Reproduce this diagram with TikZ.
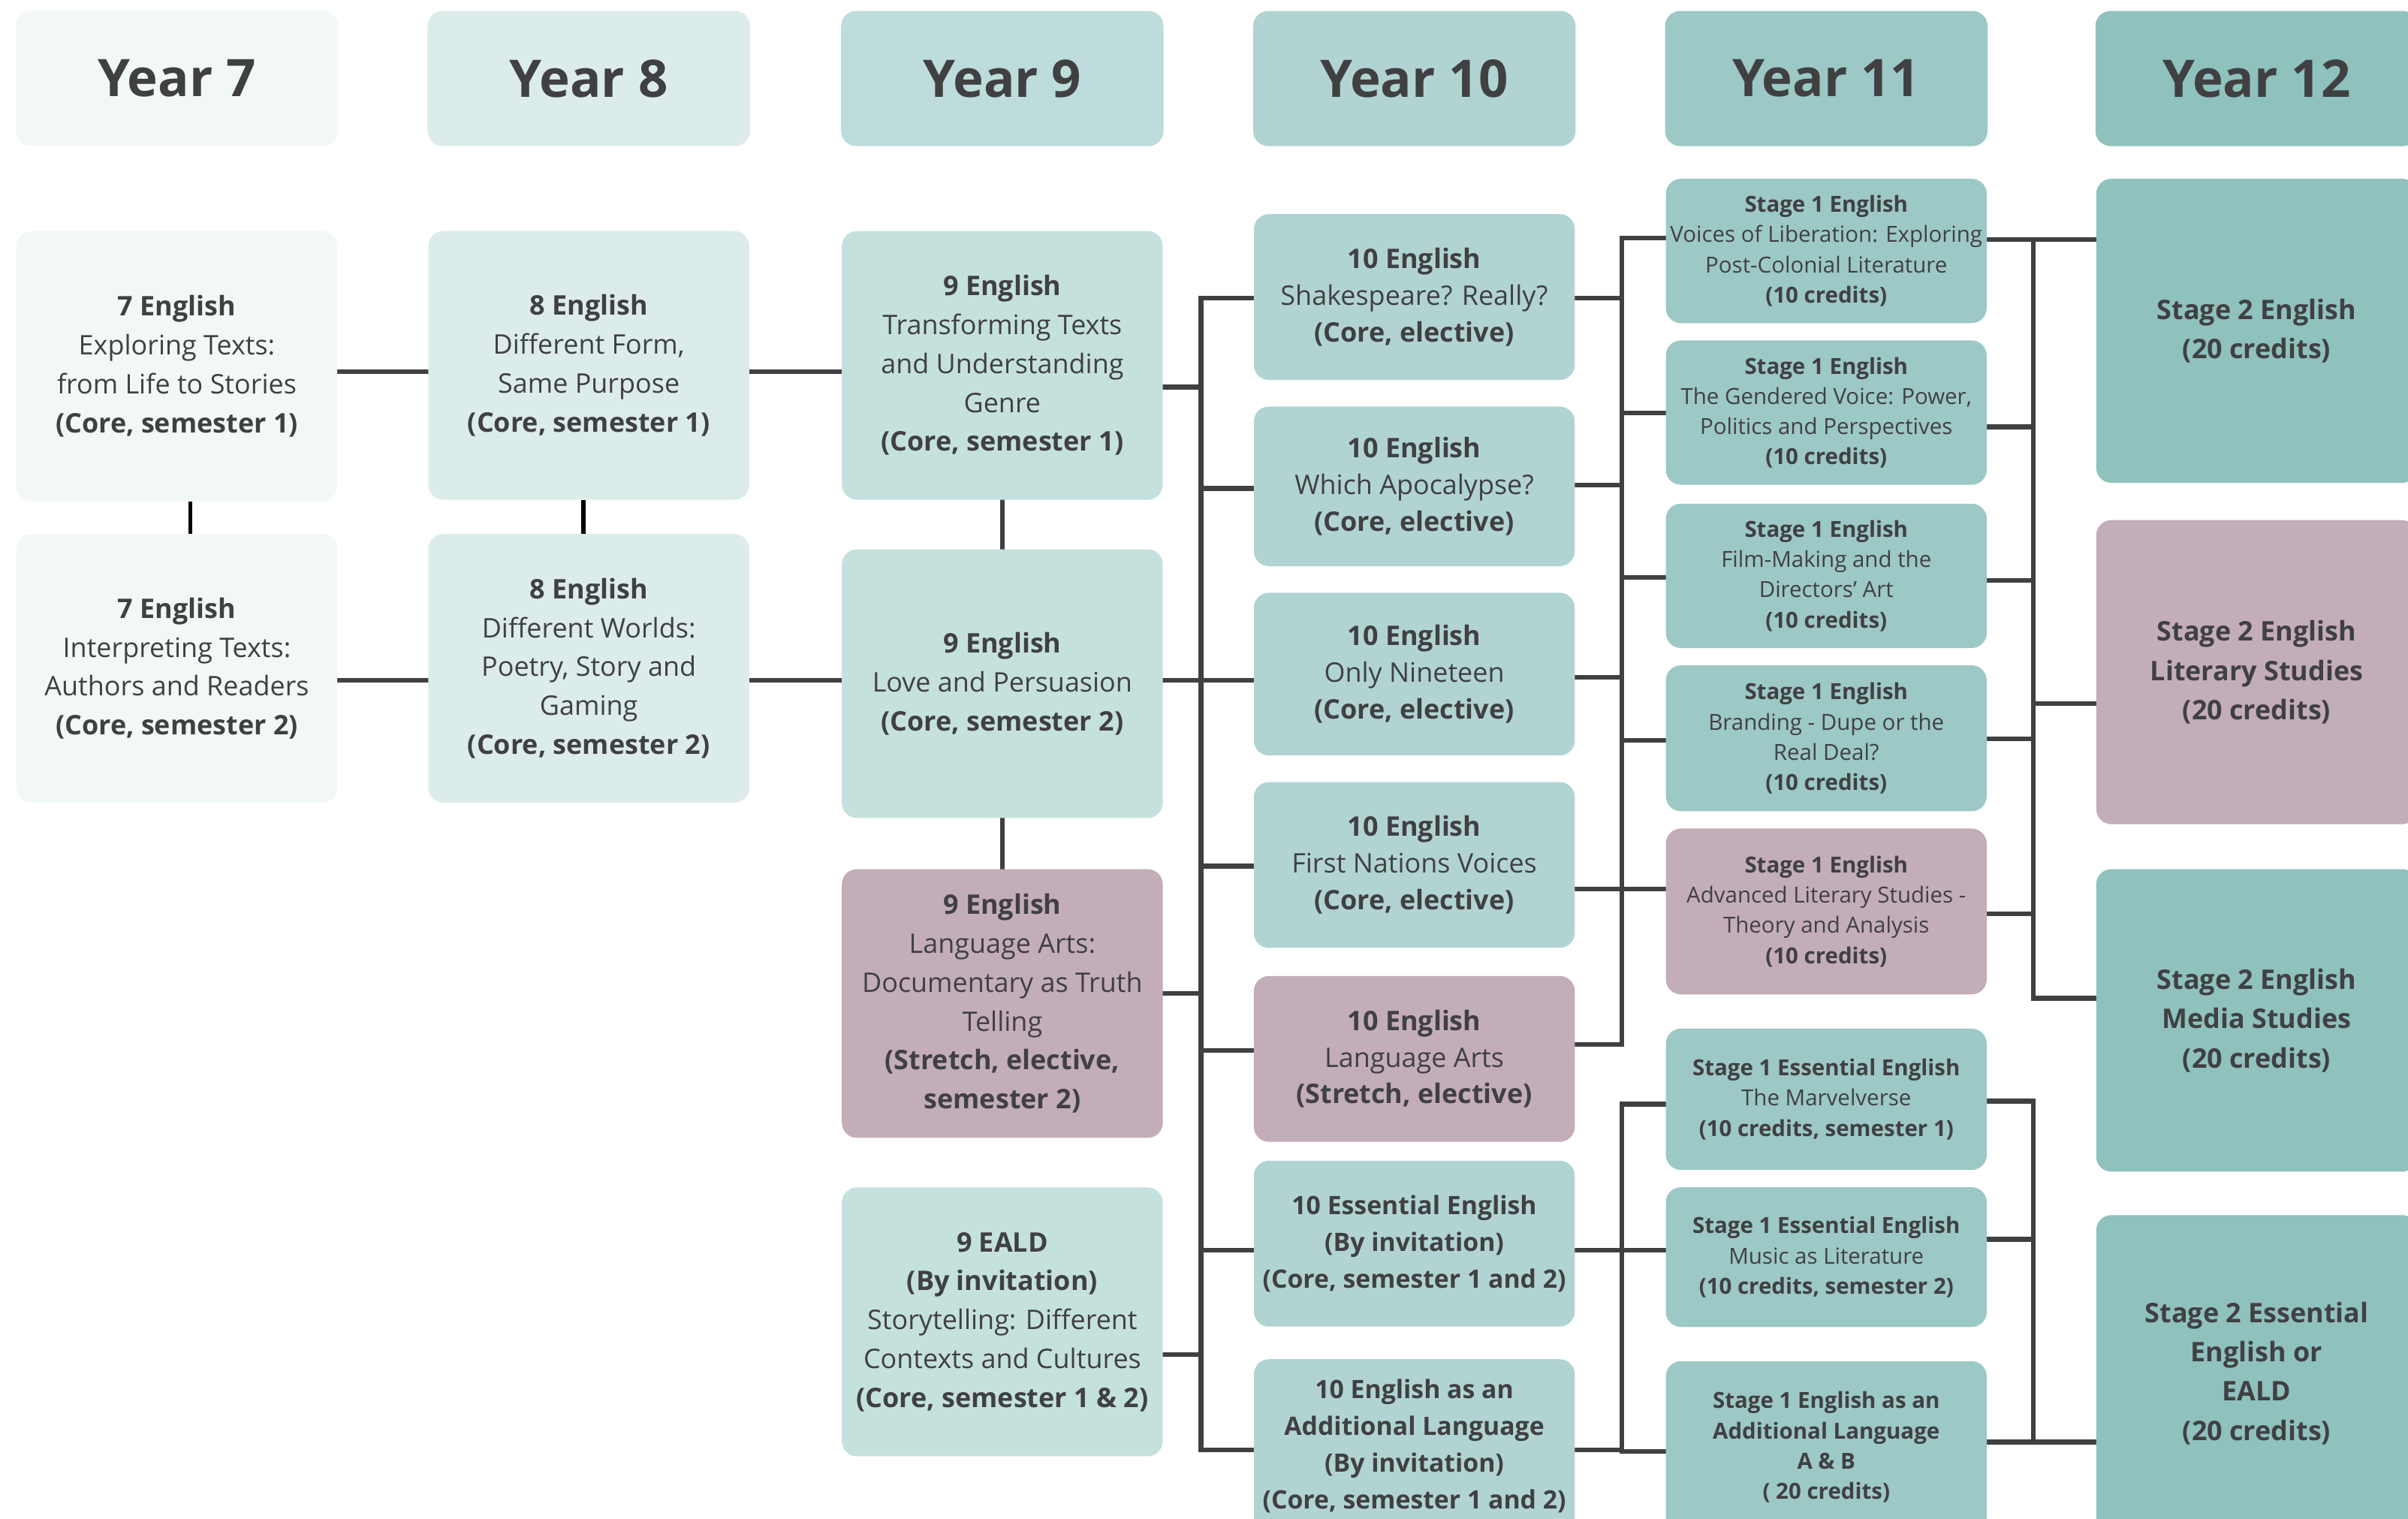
\documentclass[tikz,border=0pt]{standalone}
\usepackage{fontspec}
\setmainfont{Open Sans}
\usetikzlibrary{positioning,backgrounds}

\definecolor{ink}{HTML}{404042}
\definecolor{yrseven}{HTML}{F2F8F8}
\definecolor{yreight}{HTML}{DCECEA}
\definecolor{yrninehead}{HTML}{BEDCDB}
\definecolor{yrnine}{HTML}{C5E1DE}
\definecolor{yrten}{HTML}{B1D4D2}
\definecolor{yreleven}{HTML}{9CC8C5}
\definecolor{yrtwelve}{HTML}{8FC1BD}
\definecolor{stretch}{HTML}{C3ADB9}

\tikzset{
  box/.style={rounded corners=14pt, align=center, text=ink, inner sep=2pt, minimum width=10.45cm},
  year/.style={box, minimum width=10.5cm, minimum height=4.4cm, font=\fontsize{48}{52}\selectfont\bfseries},
  junior/.style={box, font=\fontsize{25}{36}\selectfont},
  ten/.style={box, font=\fontsize{25}{34}\selectfont},
  tenbold/.style={box, font=\fontsize{23.5}{34}\selectfont\bfseries},
  stageone/.style={box, font=\fontsize{20.5}{28}\selectfont},
  stageonebold/.style={box, font=\fontsize{20.5}{28}\selectfont\bfseries},
  stagetwo/.style={box, font=\fontsize{25}{36.5}\selectfont\bfseries},
  link/.style={draw=ink, line width=4.4pt, line cap=rect},
  joiner/.style={draw=black, line width=3.8pt},
}

\begin{document}
\begin{tikzpicture}[x=0.05cm, y=-0.05cm]
  \useasboundingbox (0,0) rectangle (1568,989);
  \clip (0,0) rectangle (1568,989);

  \node[year, fill=yrseven, anchor=north west] (h7) at (10,7) {Year 7};
  \node[year, fill=yreight, right=2.9cm of h7] (h8) {Year 8};
  \node[year, fill=yrninehead, right=2.95cm of h8] (h9) {Year 9};
  \node[year, fill=yrten, right=2.9cm of h9] (h10) {Year 10};
  \node[year, fill=yreleven, right=2.9cm of h10] (h11) {Year 11};
  \node[year, fill=yrtwelve, right=3.5cm of h11] (h12) {Year 12};

  \node[junior, fill=yrseven, minimum height=8.8cm, below=2.75cm of h7] (n7a)
    {\textbf{7 English}\\Exploring Texts:\\from Life to Stories\\\textbf{(Core, semester 1)}};
  \node[junior, fill=yrseven, minimum height=8.75cm, below=1.05cm of n7a] (n7b)
    {\textbf{7 English}\\Interpreting Texts:\\Authors and Readers\\\textbf{(Core, semester 2)}};

  \node[junior, fill=yreight, minimum height=8.75cm, below=2.75cm of h8] (n8a)
    {\textbf{8 English}\\Different Form,\\Same Purpose\\\textbf{(Core, semester 1)}};
  \node[junior, fill=yreight, minimum height=8.75cm, below=1.1cm of n8a] (n8b)
    {\textbf{8 English}\\Different Worlds:\\Poetry, Story and\\Gaming\\\textbf{(Core, semester 2)}};

  \node[junior, fill=yrnine, minimum height=8.75cm, below=2.75cm of h9] (n9a)
    {\textbf{9 English}\\Transforming Texts\\and Understanding\\Genre\\\textbf{(Core, semester 1)}};
  \node[junior, fill=yrnine, minimum height=8.75cm, below=1.6cm of n9a] (n9b)
    {\textbf{9 English}\\Love and Persuasion\\\textbf{(Core, semester 2)}};
  \node[junior, fill=stretch, minimum height=8.75cm, below=1.65cm of n9b] (n9c)
    {\textbf{9 English}\\Language Arts:\\Documentary as Truth\\Telling\\\textbf{(Stretch, elective,}\\\textbf{semester 2)}};
  \node[junior, fill=yrnine, minimum height=8.75cm, below=1.6cm of n9c] (n9d)
    {\textbf{9 EALD}\\\textbf{(By invitation)}\\Storytelling: Different\\Contexts and Cultures\\\textbf{(Core, semester 1 \& 2)}};

  \node[ten, fill=yrten, minimum height=5.4cm, below=2.2cm of h10] (n10a)
    {\textbf{10 English}\\Shakespeare? Really?\\\textbf{(Core, elective)}};
  \node[ten, fill=yrten, minimum height=5.2cm, below=0.85cm of n10a] (n10b)
    {\textbf{10 English}\\Which Apocalypse?\\\textbf{(Core, elective)}};
  \node[ten, fill=yrten, minimum height=5.3cm, below=0.85cm of n10b] (n10c)
    {\textbf{10 English}\\Only Nineteen\\\textbf{(Core, elective)}};
  \node[ten, fill=yrten, minimum height=5.4cm, below=0.85cm of n10c] (n10d)
    {\textbf{10 English}\\First Nations Voices\\\textbf{(Core, elective)}};
  \node[ten, fill=stretch, minimum height=5.4cm, below=0.9cm of n10d] (n10e)
    {\textbf{10 English}\\Language Arts\\\textbf{(Stretch, elective)}};
  \node[tenbold, fill=yrten, minimum height=5.4cm, below=0.6cm of n10e] (n10f)
    {10 Essential English\\(By invitation)\\(Core, semester 1 and 2)};
  \node[tenbold, fill=yrten, minimum height=5.65cm, below=1.05cm of n10f] (n10g)
    {10 English as an\\Additional Language\\(By invitation)\\(Core, semester 1 and 2)};

  \node[stageone, fill=yreleven, minimum height=4.7cm, below=1.05cm of h11] (n11a)
    {\textbf{Stage 1 English}\\Voices of Liberation: Exploring\\Post-Colonial Literature\\\textbf{(10 credits)}};
  \node[stageone, fill=yreleven, minimum height=4.7cm, below=0.55cm of n11a] (n11b)
    {\textbf{Stage 1 English}\\The Gendered Voice: Power,\\Politics and Perspectives\\\textbf{(10 credits)}};
  \node[stageone, fill=yreleven, minimum height=4.7cm, below=0.6cm of n11b] (n11c)
    {\textbf{Stage 1 English}\\Film-Making and the\\Directors’ Art\\\textbf{(10 credits)}};
  \node[stageone, fill=yreleven, minimum height=4.75cm, below=0.55cm of n11c] (n11d)
    {\textbf{Stage 1 English}\\Branding - Dupe or the\\Real Deal?\\\textbf{(10 credits)}};
  \node[stageone, fill=stretch, minimum height=5.4cm, below=0.55cm of n11d] (n11e)
    {\textbf{Stage 1 English}\\Advanced Literary Studies -\\Theory and Analysis\\\textbf{(10 credits)}};
  \node[stageone, fill=yreleven, minimum height=4.6cm, below=1.1cm of n11e] (n11f)
    {\textbf{Stage 1 Essential English}\\The Marvelverse\\\textbf{(10 credits, semester 1)}};
  \node[stageone, fill=yreleven, minimum height=4.55cm, below=0.55cm of n11f] (n11g)
    {\textbf{Stage 1 Essential English}\\Music as Literature\\\textbf{(10 credits, semester 2)}};
  \node[stageonebold, fill=yreleven, minimum height=5.6cm, below=1.1cm of n11g] (n11h)
    {Stage 1 English as an\\Additional Language\\A \& B\\( 20 credits)};

  \node[stagetwo, fill=yrtwelve, minimum height=9.9cm, below=1.05cm of h12] (n12a)
    {Stage 2 English\\(20 credits)};
  \node[stagetwo, fill=stretch, minimum height=9.9cm, below=1.2cm of n12a] (n12b)
    {Stage 2 English\\Literary Studies\\(20 credits)};
  \node[stagetwo, fill=yrtwelve, minimum height=9.85cm, below=1.45cm of n12b] (n12c)
    {Stage 2 English\\Media Studies\\(20 credits)};
  \node[stagetwo, fill=yrtwelve, minimum height=10.3cm, below=1.4cm of n12c] (n12d)
    {Stage 2 Essential\\English or\\EALD\\(20 credits)};

  \begin{scope}[on background layer]
    \draw[link] (n7a.east |- 0,242) -- (n8a.west |- 0,242);
    \draw[link] (n8a.east |- 0,242) -- (n9a.west |- 0,242);
    \draw[link] (n7b.east |- 0,443) -- (n8b.west |- 0,443);
    \draw[link] (n8b.east |- 0,443) -- (n9b.west |- 0,443);
    \draw[joiner] (n7a.south -| 124,0) -- (n7b.north -| 124,0);
    \draw[joiner] (n8a.south -| 380,0) -- (n8b.north -| 380,0);
    \draw[link] (n9a) -- (n9b);
    \draw[link] (n9b) -- (n9c);

    \coordinate (b10) at (782,0);
    \coordinate (b11) at (1056,0);
    \coordinate (b12) at (1324,0);

    \foreach \n/\y in {n9a/252,n9b/443,n9c/647,n9d/882}
      \draw[link] (\n.east |- 0,\y) -- (b10 |- 0,\y);
    \foreach \n/\y in {n10a/194,n10b/318,n10c/443,n10d/564,n10e/684,n10f/814,n10g/944}
      \draw[link] (b10 |- 0,\y) -- (\n.west |- 0,\y);
    \draw[link] (b10 |- 0,194) -- (b10 |- 0,944);

    \foreach \n/\y in {n10a/194,n10b/316,n10c/441,n10d/579,n10e/680}
      \draw[link] (\n.east |- 0,\y) -- (b11 |- 0,\y);
    \foreach \n/\y in {n11a/155,n11b/269,n11c/376,n11d/482,n11e/579}
      \draw[link] (b11 |- 0,\y) -- (\n.west |- 0,\y);
    \draw[link] (b11 |- 0,155) -- (b11 |- 0,680);

    \foreach \n/\y in {n10f/814,n10g/944}
      \draw[link] (\n.east |- 0,\y) -- (b11 |- 0,\y);
    \foreach \n/\y in {n11f/719,n11g/814,n11h/945}
      \draw[link] (b11 |- 0,\y) -- (\n.west |- 0,\y);
    \draw[link] (b11 |- 0,719) -- (b11 |- 0,945);

    \foreach \n/\y in {n11a/156,n11b/278,n11c/378,n11d/481,n11e/595}
      \draw[link] (\n.east |- 0,\y) -- (b12 |- 0,\y);
    \foreach \n/\y in {n12a/156,n12b/458,n12c/650}
      \draw[link] (b12 |- 0,\y) -- (\n.west |- 0,\y);
    \draw[link] (b12 |- 0,156) -- (b12 |- 0,650);

    \foreach \n/\y in {n11f/717,n11g/807,n11h/939}
      \draw[link] (\n.east |- 0,\y) -- (b12 |- 0,\y);
    \draw[link] (b12 |- 0,939) -- (n12d.west |- 0,939);
    \draw[link] (b12 |- 0,717) -- (b12 |- 0,939);
  \end{scope}
\end{tikzpicture}
\end{document}
